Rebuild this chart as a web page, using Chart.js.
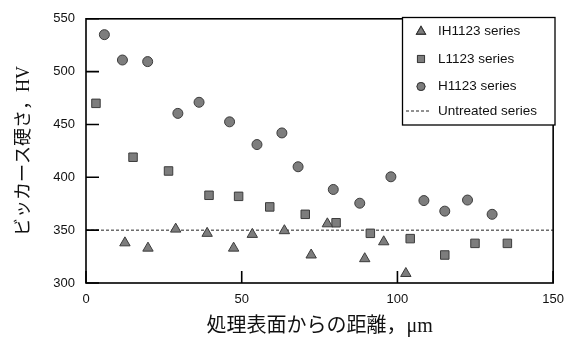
<!DOCTYPE html>
<html>
<head>
<meta charset="utf-8">
<script src="https://cdn.jsdelivr.net/npm/chart.js@4.4.1/dist/chart.umd.min.js"></script>
<style>
  html, body { margin: 0; padding: 0; background: #fff; }
  #wrap { width: 573px; height: 343px; }
</style>
</head>
<body>
<div id="wrap"><canvas id="hvChart"></canvas></div>
<script>
// distance from treated surface (um) and Vickers hardness (HV)
const ihDist = [12.5, 19.9, 28.8, 38.9, 47.4, 53.4, 63.7, 72.3, 77.5, 89.5, 95.6, 102.7];
const ihHv = [338, 333, 351, 347, 333, 346, 349.5, 326.5, 356, 323, 339, 309];

const lDist = [3.2, 15.1, 26.5, 39.5, 49, 59, 70.4, 80.3, 91.3, 104.1, 115.2, 124.9, 135.3];
const lHv = [470, 419, 406, 383, 382, 372, 365, 357, 347, 342, 326.5, 337.5, 337.5];

const hDist = [5.9, 11.7, 19.8, 29.5, 36.3, 46.1, 54.9, 62.9, 68.1, 79.4, 87.9, 97.9, 108.5, 115.2, 122.5, 130.4];
const hHv = [535, 511, 509.5, 460.5, 471, 452.5, 431, 442, 410, 388.5, 375.5, 400.5, 378, 368, 378.5, 365];

const untreatedDist = [0, 150];
const untreatedHv = [350, 350];

const seriesLabels = ["IH1123 series", "L1123 series", "H1123 series", "Untreated series"];
const xTicks = [0, 50, 100, 150];
const yTicks = [300, 350, 400, 450, 500, 550];

const toPoints = (xs, ys) => xs.map((x, i) => ({ x: x, y: ys[i] }));

const markerFill = "#7d7d7d";
const markerEdge = "#3c3c3c";

// inward ticks + closed frame around the plot
const framePlugin = {
  id: "frame",
  afterDatasetsDraw(chart) {
    const { ctx, chartArea: a, scales } = chart;
    ctx.save();
    ctx.strokeStyle = "#000";
    ctx.lineWidth = 1.6;
    ctx.beginPath();
    scales.x.ticks.forEach((t) => {
      const px = scales.x.getPixelForValue(t.value);
      ctx.moveTo(px, a.bottom);
      ctx.lineTo(px, a.bottom - 12);
    });
    scales.y.ticks.forEach((t) => {
      const py = scales.y.getPixelForValue(t.value);
      ctx.moveTo(a.left, py);
      ctx.lineTo(a.left + 13, py);
    });
    ctx.stroke();
    ctx.strokeRect(a.left, a.top, a.right - a.left, a.bottom - a.top);
    ctx.restore();
  },
};

// boxed legend in the top right corner of the plot
const legendPlugin = {
  id: "boxLegend",
  afterDraw(chart) {
    const { ctx } = chart;
    const boxL = 402.5, boxT = 17.5, boxW = 152.5, boxH = 107.5;
    const rows = [31.5, 59, 86.5, 111];
    ctx.save();
    ctx.fillStyle = "#fff";
    ctx.fillRect(boxL, boxT, boxW, boxH);
    ctx.strokeStyle = "#000";
    ctx.lineWidth = 1.3;
    ctx.strokeRect(boxL, boxT, boxW, boxH);
    chart.data.datasets.forEach((ds, i) => {
      const y = rows[i];
      if (ds.showLine) {
        ctx.strokeStyle = ds.borderColor;
        ctx.lineWidth = 1;
        ctx.setLineDash(ds.borderDash);
        ctx.beginPath();
        ctx.moveTo(406, y);
        ctx.lineTo(431, y);
        ctx.stroke();
        ctx.setLineDash([]);
      } else {
        Chart.helpers.drawPoint(ctx, {
          pointStyle: ds.pointStyle,
          radius: ds.pointRadius - 1,
          rotation: 0,
          borderWidth: 1,
        }, 421, y);
        ctx.fillStyle = ds.backgroundColor;
        ctx.strokeStyle = ds.borderColor;
        ctx.lineWidth = 1;
        ctx.fill();
        ctx.stroke();
      }
      ctx.fillStyle = "#111";
      ctx.font = "13.5px 'Liberation Sans', Arial, sans-serif";
      ctx.textAlign = "left";
      ctx.textBaseline = "middle";
      ctx.fillText(ds.label, 438, y);
    });
    ctx.restore();
  },
};

const ctx = document.getElementById("hvChart").getContext("2d");
new Chart(ctx, {
  type: "scatter",
  data: {
    datasets: [
      {
        label: seriesLabels[0],
        data: toPoints(ihDist, ihHv),
        pointStyle: "triangle",
        pointRadius: 6,
        backgroundColor: markerFill,
        borderColor: markerEdge,
        borderWidth: 1,
      },
      {
        label: seriesLabels[1],
        data: toPoints(lDist, lHv),
        pointStyle: "rect",
        pointRadius: 6,
        backgroundColor: markerFill,
        borderColor: markerEdge,
        borderWidth: 1,
      },
      {
        label: seriesLabels[2],
        data: toPoints(hDist, hHv),
        pointStyle: "circle",
        pointRadius: 5,
        backgroundColor: markerFill,
        borderColor: markerEdge,
        borderWidth: 1,
      },
      {
        label: seriesLabels[3],
        data: toPoints(untreatedDist, untreatedHv),
        showLine: true,
        pointRadius: 0,
        borderColor: "#222",
        borderWidth: 1,
        borderDash: [3, 2],
        order: 5,
      },
    ],
  },
  options: {
    responsive: true,
    maintainAspectRatio: false,
    animation: false,
    layout: { padding: { top: 12, right: 14, left: 0, bottom: 0 } },
    plugins: {
      legend: { display: false },
      tooltip: { enabled: false },
    },
    scales: {
      x: {
        type: "linear",
        min: 0,
        max: 150,
        afterFit: (s) => { s.height = 60; },
        afterBuildTicks: (s) => { s.ticks = xTicks.map((v) => ({ value: v })); },
        grid: { display: false, drawTicks: false },
        border: { display: false },
        ticks: {
          padding: 9,
          color: "#111",
          font: { family: "'Liberation Sans', Arial, sans-serif", size: 13 },
        },
        title: {
          display: true,
          text: "処理表面からの距離，μm",
          color: "#111",
          padding: { top: 0, bottom: 4 },
          font: { family: "'Liberation Serif', 'Noto Sans CJK JP'", size: 20, lineHeight: 1.2 },
        },
      },
      y: {
        type: "linear",
        min: 300,
        max: 550,
        afterFit: (s) => { s.width = 86; },
        afterBuildTicks: (s) => { s.ticks = yTicks.map((v) => ({ value: v })); },
        grid: { display: false, drawTicks: false },
        border: { display: false },
        ticks: {
          padding: 11,
          color: "#111",
          font: { family: "'Liberation Sans', Arial, sans-serif", size: 13 },
        },
        title: {
          display: true,
          text: "ビッカース硬さ，HV",
          color: "#111",
          padding: { top: 13, bottom: 0 },
          font: { family: "'Liberation Serif', 'Noto Sans CJK JP'", size: 18, lineHeight: 1.2 },
        },
      },
    },
  },
  plugins: [framePlugin, legendPlugin],
});
</script>
</body>
</html>
